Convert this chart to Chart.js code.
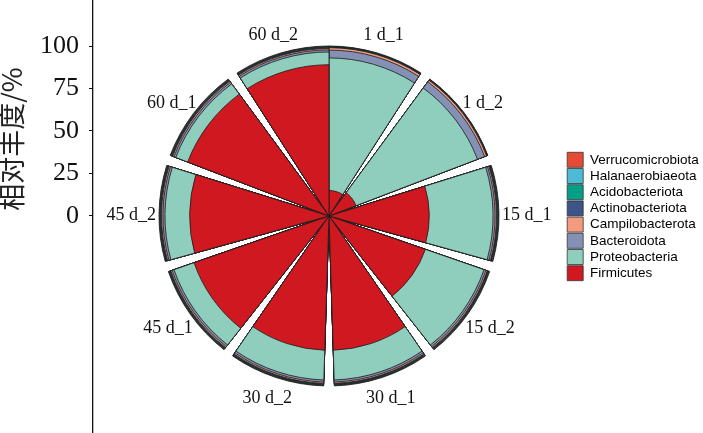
<!DOCTYPE html>
<html>
<head>
<meta charset="utf-8">
<script src="https://cdn.jsdelivr.net/npm/chart.js@4.4.1/dist/chart.umd.min.js"></script>
<style>
  html, body { margin: 0; padding: 0; background: #fff; }
  canvas { display: block; }
</style>
</head>
<body>
<canvas id="polarChart" width="703" height="433"></canvas>
<script>

// samples around the circle, clockwise from 12 o'clock
const samples = ["1 d_1", "1 d_2", "15 d_1", "15 d_2", "30 d_1", "30 d_2", "45 d_1", "45 d_2", "60 d_1", "60 d_2"];

// relative abundance (%), one value per sample
const firmicutes        = [15, 17, 59, 60, 79, 79, 84, 82, 89, 89];
const proteobacteria    = [78, 76.5, 37.5, 36.5, 17.5, 17.5, 12.5, 14.5, 7.5, 7.5];
const bacteroidota      = [4.6, 4.5, 1.2, 1.2, 1.2, 1.2, 1.2, 1.2, 1.2, 1.2];
const campilobacterota  = [1.4, 1.2, 0.8, 0.8, 0.8, 0.8, 0.8, 0.8, 0.8, 0.8];
const actinobacteriota  = [0.3, 0.3, 0.5, 0.5, 0.5, 0.5, 0.5, 0.5, 0.5, 0.5];
const acidobacteriota   = [0.3, 0.2, 0.4, 0.4, 0.4, 0.4, 0.4, 0.4, 0.4, 0.4];
const halanaerobiaeota  = [0.2, 0.2, 0.3, 0.3, 0.3, 0.3, 0.3, 0.3, 0.3, 0.3];
const verrucomicrobiota = [0.2, 0.1, 0.3, 0.3, 0.3, 0.3, 0.3, 0.3, 0.3, 0.3];

const yTicks = [0, 25, 50, 75, 100];
const yTitle = "相对丰度/%";

// stacking order, from the centre outwards
const series = [
  { name: "Firmicutes",        values: firmicutes,        color: "#CF1820" },
  { name: "Proteobacteria",    values: proteobacteria,    color: "#8FCDBD" },
  { name: "Bacteroidota",      values: bacteroidota,      color: "#8491B4" },
  { name: "Campilobacterota",  values: campilobacterota,  color: "#F39B7F" },
  { name: "Actinobacteriota",  values: actinobacteriota,  color: "#3C5488" },
  { name: "Acidobacteriota",   values: acidobacteriota,   color: "#00A087" },
  { name: "Halanaerobiaeota",  values: halanaerobiaeota,  color: "#4DBBD5" },
  { name: "Verrucomicrobiota", values: verrucomicrobiota, color: "#E64B35" }
];

// bars take 0.9 of each slot, no gap where the circle closes
const barDeg = 360 * 0.9 / 9.9;
const gapDeg = 360 * 0.1 / 9.9;

function withGaps(arr, filler){
  let out = [];
  arr.forEach((v, i) => {
    if(i > 0) out.push(filler);
    out.push(v);
  });
  return out;
}

// cumulative layers, drawn so that layer 0 (Firmicutes) ends on top
let running = samples.map(() => 0);
const datasets = series.map(s => {
  running = running.map((v, i) => v + s.values[i]);
  return {
    label: s.name,
    data: withGaps(running.slice(), 0),
    backgroundColor: s.color,
    borderColor: "#1a1a1a",
    borderWidth: ctx => ctx.dataIndex % 2 ? 0 : 0.8,
    angle: ctx => ctx.dataIndex % 2 ? gapDeg : barDeg
  };
});

const serif = "'Liberation Serif', 'Times New Roman', serif";

const sampleLabels = {
  id: "sampleLabels",
  afterDatasetsDraw(chart){
    const ctx = chart.ctx;
    const scale = chart.scales.r;
    const meta = chart.getDatasetMeta(0);
    const rL = scale.getDistanceFromCenterForValue(100) + 3;
    ctx.save();
    ctx.font = "18px " + serif;
    ctx.fillStyle = "#111";
    ctx.textAlign = "center";
    ctx.textBaseline = "middle";
    samples.forEach((s, i) => {
      const arc = meta.data[i * 2];
      const mid = (arc.startAngle + arc.endAngle) / 2;
      const dx = Math.cos(mid), dy = Math.sin(mid);
      const w = ctx.measureText(s).width;
      ctx.fillText(s, scale.xCenter + (rL + w / 2) * dx, scale.yCenter + (rL + 17) * dy + 2);
    });
    ctx.restore();
  }
};

const axisTitle = {
  id: "axisTitle",
  afterDraw(chart){
    const ctx = chart.ctx;
    ctx.save();
    ctx.translate(12, 139);
    ctx.rotate(-Math.PI / 2);
    ctx.font = "27px 'Noto Sans CJK SC'";
    ctx.fillStyle = "#222";
    ctx.textAlign = "center";
    ctx.textBaseline = "middle";
    ctx.fillText(yTitle, 0, 0);
    ctx.restore();
  }
};

Chart.defaults.font.family = "'Liberation Sans', Arial, sans-serif";

const ctx = document.getElementById("polarChart").getContext("2d");

new Chart(ctx, {
  type: "polarArea",
  data: {
    labels: withGaps(samples, ""),
    datasets: datasets
  },
  options: {
    responsive: false,
    animation: false,
    layout: { padding: 0 },
    plugins: {
      tooltip: { enabled: false },
      legend: {
        position: "right",
        align: "center",
        maxWidth: 137,
        labels: {
          boxWidth: 16,
          boxHeight: 15,
          padding: 1.2,
          color: "#111",
          font: { size: 13.5 },
          generateLabels: chart => series.map((s, i) => ({
            text: s.name,
            fillStyle: s.color,
            strokeStyle: "#333",
            lineWidth: 0.8,
            hidden: false,
            datasetIndex: i
          })).reverse()
        }
      }
    },
    scales: {
      r: {
        type: "radialLinear",
        min: 0,
        max: 127.06,
        grid: { display: false },
        angleLines: { display: false },
        pointLabels: { display: false },
        ticks: { display: false }
      },
      y: {
        type: "linear",
        position: "left",
        min: -127.65,
        max: 127.06,
        afterBuildTicks: s => { s.ticks = yTicks.map(v => ({ value: v })); },
        afterFit: s => {
          s.width = 93;
          s.paddingTop = 0;
          s.paddingBottom = 0;
        },
        grid: {
          display: true,
          drawOnChartArea: false,
          drawTicks: true,
          tickLength: 4,
          color: "#111",
          lineWidth: 1
        },
        border: { display: true, color: "#111", width: 1.3 },
        ticks: {
          padding: 10,
          color: "#111",
          font: { family: serif, size: 26 }
        }
      }
    }
  },
  plugins: [sampleLabels, axisTitle]
});

</script>
</body>
</html>
